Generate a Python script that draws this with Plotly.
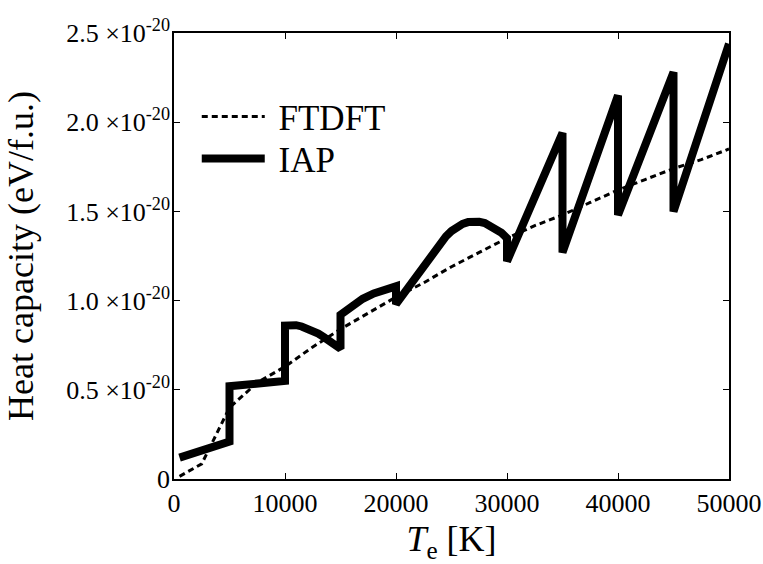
import plotly.graph_objects as go

# FTDFT (dashed) heat capacity, units of 1e-20 eV/f.u.
ftdft_T = [500, 2500, 5000, 7500, 10000, 12500, 15000, 17500, 20000, 22500, 25000,
           27500, 30000, 32500, 35000, 37500, 40000, 42500, 45000, 47500, 50000]
ftdft_C = [0.015, 0.085, 0.40, 0.54, 0.63, 0.74, 0.84, 0.93, 1.02, 1.10, 1.19,
           1.27, 1.35, 1.42, 1.48, 1.55, 1.62, 1.68, 1.74, 1.79, 1.85]

# IAP (thick solid) heat capacity, units of 1e-20 eV/f.u.
iap_T = [500, 5000, 5000, 10000, 10000, 10500, 11000, 11500, 12000, 12500, 13000,
         13500, 14000, 14500, 15000,
         15000, 16000, 17000, 18000, 19000, 20000, 20000, 22000, 23000, 24000,
         24500, 25000, 25500, 26000, 26500, 27000, 27500, 28000, 28500, 29000,
         29500, 30000, 30000, 35000, 35000,
         40000, 40000, 45000, 45000, 50000]
iap_C = [0.12, 0.21, 0.52, 0.55, 0.86, 0.865, 0.862, 0.855, 0.845, 0.83, 0.815,
         0.795, 0.775, 0.75, 0.73,
         0.92, 0.97, 1.01, 1.04, 1.06, 1.08, 0.98, 1.15, 1.24, 1.32,
         1.36, 1.39, 1.415, 1.43, 1.44, 1.445, 1.442, 1.435, 1.42, 1.40,
         1.38, 1.35, 1.22, 1.94, 1.27,
         2.15, 1.48, 2.28, 1.50, 2.44]

x_ticks = [0, 10000, 20000, 30000, 40000, 50000]
y_ticks = [0, 0.5, 1.0, 1.5, 2.0, 2.5]
y_ticktext = ["0"] + [f"{v:.1f} \u00d710<sup>-20</sup>" for v in y_ticks[1:]]

FONT = "'Times New Roman', 'Liberation Serif', Tinos, serif"

fig = go.Figure()
fig.add_trace(go.Scatter(x=ftdft_T, y=ftdft_C, mode="lines", name="\u00a0FTDFT",
                         legend="legend",
                         line=dict(color="black", width=3, dash="6px,4px")))
fig.add_trace(go.Scatter(x=iap_T, y=iap_C, mode="lines", name="\u00a0IAP",
                         legend="legend2",
                         line=dict(color="black", width=8)))

axis_common = dict(showgrid=False, zeroline=False, showline=True, linecolor="black",
                   linewidth=1.5, mirror="ticks", ticks="inside", ticklen=6,
                   tickcolor="black", tickwidth=1, automargin=False)

fig.update_xaxes(range=[0, 50000], tickvals=x_ticks, ticktext=[str(v) for v in x_ticks],
                 tickfont=dict(family=FONT, size=26, color="black"),
                 title=dict(text="<i>T</i><sub>e</sub> [K]",
                            font=dict(family=FONT, size=36, color="black"), standoff=14),
                 **axis_common)
fig.update_yaxes(range=[0, 2.5], tickvals=y_ticks, ticktext=y_ticktext,
                 tickfont=dict(family=FONT, size=26, color="black"),
                 ticklabelstandoff=-3,
                 title=dict(text="Heat capacity (eV/f.u.)",
                            font=dict(family=FONT, size=36, color="black"), standoff=22),
                 **axis_common)

leg_common = dict(xanchor="left", yanchor="middle", itemwidth=63,
                  font=dict(family=FONT, size=35, color="black"),
                  bgcolor="rgba(0,0,0,0)", borderwidth=0)

fig.update_layout(
    width=763, height=564,
    margin=dict(l=174, r=34, t=33, b=85, autoexpand=False),
    paper_bgcolor="white", plot_bgcolor="white",
    font=dict(family=FONT),
    legend=dict(x=0.041, y=0.812, **leg_common),
    legend2=dict(x=0.041, y=0.718, **leg_common),
    showlegend=True,
)

fig.write_html("out.html")
